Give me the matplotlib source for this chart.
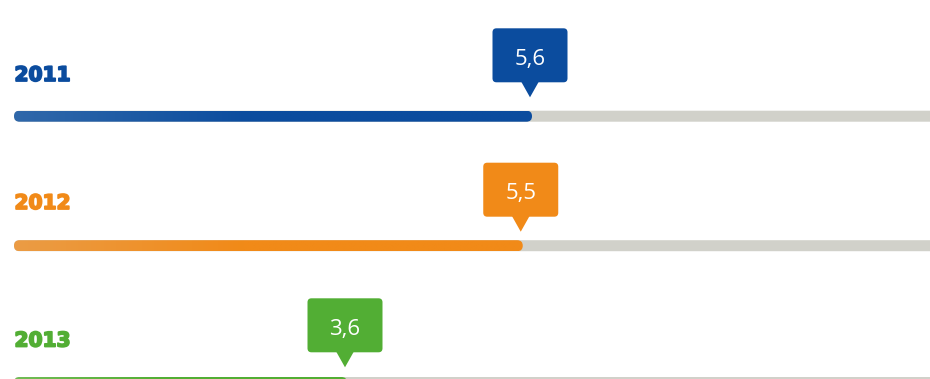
import numpy as np
import matplotlib
matplotlib.use("Agg")
import matplotlib.pyplot as plt
import matplotlib.patheffects as pe
from matplotlib.patches import FancyBboxPatch, Polygon
from matplotlib.colors import LinearSegmentedColormap

# data
years = ["2011", "2012", "2013"]
values = [5.6, 5.5, 3.6]
value_labels = ["5,6", "5,5", "3,6"]

# styling / layout (pixel rows)
main_colors = ["#0b4c9e", "#f18a18", "#52ae34"]
light_colors = ["#3068aa", "#eb9c45", "#72bc56"]
track_color = "#d1d1ca"
row_y = [116.2, 245.7, 382.5]   # bar centres
tip_y = [97.3, 231.7, 367.3]    # callout pointer tips
label_y = [75.5, 203.5, 341.0]  # year label centres

W, H = 930, 379
PX_PER_UNIT = 92.5
LEFT_PX = 14
PX = 1.0 / PX_PER_UNIT          # one pixel expressed in x units

fig = plt.figure(figsize=(W / 100, H / 100), dpi=100)
ax = fig.add_axes([0, 0, 1, 1])
ax.axis("off")

bar_h = 11
for i, (year, v, lab) in enumerate(zip(years, values, value_labels)):
    c, lc, yc = main_colors[i], light_colors[i], row_y[i]

    # grey track
    track = FancyBboxPatch((0, yc - bar_h / 2), 11, bar_h,
                           boxstyle=f"round,pad=0,rounding_size={bar_h / 2 * PX}",
                           mutation_aspect=PX_PER_UNIT,
                           fc=track_color, ec="none", zorder=1)
    ax.add_patch(track)

    # gradient value bar
    clip = FancyBboxPatch((0, yc - bar_h / 2), v, bar_h,
                          boxstyle=f"round,pad=0,rounding_size={bar_h / 2 * PX}",
                          mutation_aspect=PX_PER_UNIT,
                          fc="none", ec="none", transform=ax.transData)
    ax.add_patch(clip)
    cmap = LinearSegmentedColormap.from_list("g", [(0, lc), (0.45, c), (1, c)])
    im = ax.imshow(np.linspace(0, 1, 256)[None, :], cmap=cmap, aspect="auto",
                   extent=[0, v, yc + bar_h / 2, yc - bar_h / 2],
                   interpolation="bilinear", zorder=2)
    im.set_clip_path(clip)

    # year label (heavy)
    ax.text(0.5 * PX, label_y[i], year, color=c, fontsize=14.5, fontweight="bold",
            family="DejaVu Sans", ha="left", va="center", zorder=3,
            path_effects=[pe.withStroke(linewidth=1.3, foreground=c)])

    # callout box
    tx = v - 2 * PX
    bw = 75
    bbot = tip_y[i] - 15
    btop = bbot - 54
    box = FancyBboxPatch((tx - bw / 2 * PX, btop), bw * PX, bbot - btop,
                         boxstyle=f"round,pad=0,rounding_size={4 * PX}",
                         mutation_aspect=PX_PER_UNIT,
                         fc=c, ec="none", zorder=3)
    ax.add_patch(box)
    tri = Polygon([(tx - 9 * PX, bbot - 1), (tx + 9 * PX, bbot - 1), (tx, tip_y[i])],
                  closed=True, fc=c, ec="none", zorder=3)
    ax.add_patch(tri)
    ax.text(tx, bbot - 17.5, lab, color="white", fontsize=16,
            family="Open Sans", ha="center", va="baseline", zorder=4)

ax.set_xlim(-LEFT_PX * PX, (W - LEFT_PX) * PX)
ax.set_ylim(H, 0)

fig.savefig("out.png", dpi=100)
